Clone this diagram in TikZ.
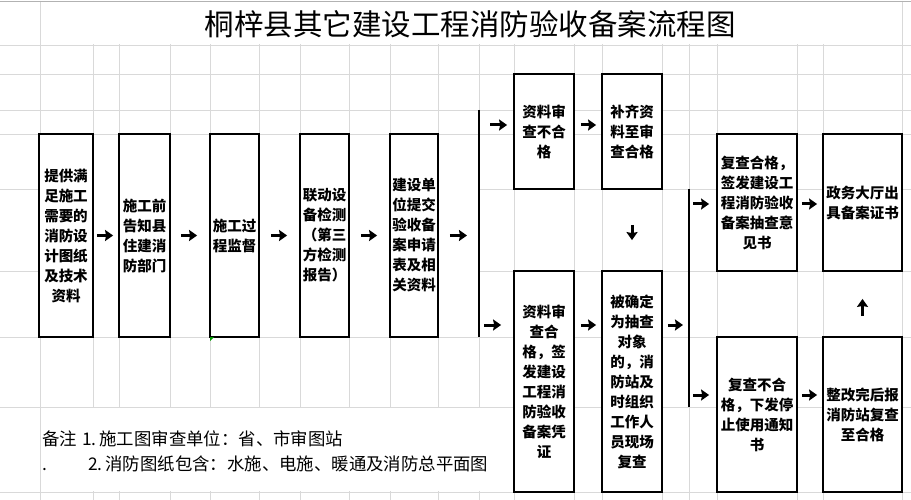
\documentclass[tikz,border=0pt]{standalone}
\usepackage{fontspec}
\newfontfamily\cjk{Noto Sans CJK SC}
\usepackage{tikz}
\usetikzlibrary{arrows.meta}
\usetikzlibrary{calc}
\newcommand{\boxfont}{\cjk\bfseries\fontsize{14.5}{20}\selectfont}
\newcommand{\notefont}{\cjk\fontsize{17.4}{20}\selectfont}
\newcommand{\titlefont}{\cjk\fontsize{29.5}{31}\selectfont}

\begin{document}
\begin{tikzpicture}[x=1pt, y=-1pt,
    grid line/.style={draw=gray!30, line width=0.8pt},
    stepbox/.style={draw, line width=1.8pt, fill=white, inner sep=0pt, align=center, font=\boxfont},
    flow/.style={line width=3pt, -{Stealth[length=8pt,width=11pt,inset=1pt]}},
    bracket line/.style={line width=1.8pt},
    ]
\useasboundingbox (0,0) rectangle (911,500);
\fill[white] (0,0) rectangle (911,500);

%% sheet grid
\foreach \gx in {40,93,119,170,210,259,300,349,390,438,479,514,574,602,662,689,717,797,823,902}
  \draw[grid line] (\gx,1) -- (\gx,500);
\foreach \gy in {45,74,110,134,189,271,337,407,492}
  \draw[grid line] (0,\gy) -- (911,\gy);
\draw[gray!60, line width=0.8pt] (0,1) -- (911,1);

%% merged cells
\fill[white] (40.6,1.6) rectangle (901.4,44.4);
\fill[white] (40.6,134.6) rectangle (478.4,336.4);
\fill[white] (40.6,407.6) rectangle (513.4,491.4);

%% title
\node[font=\titlefont] (title) at (470,24) {桐梓县其它建设工程消防验收备案流程图};

%% draw boxes
\node[stepbox, minimum width=54pt, minimum height=203pt] (design) at (66,235.5)
  {提供满\\足施工\\需要的\\消防设\\计图纸\\及技术\\资料};
\node[stepbox, minimum width=51pt, minimum height=203pt] (notify) at (144.5,235.5)
  {施工前\\告知县\\住建消\\防部门};
\node[stepbox, minimum width=49pt, minimum height=203pt] (supervise) at (234.5,235.5)
  {施工过\\程监督};
\node[stepbox, minimum width=49pt, minimum height=203pt] (detect) at (324.5,235.5)
  {联动设\\备检测\\（第三\\方检测\\报告）};
\node[stepbox, minimum width=48pt, minimum height=203pt] (apply) at (414,235.5)
  {建设单\\位提交\\验收备\\案申请\\表及相\\关资料};

\node[stepbox, minimum width=60pt, minimum height=115pt] (fail) at (544,131.5)
  {资料审\\查不合\\格};
\node[stepbox, minimum width=60pt, minimum height=115pt] (supply) at (632,131.5)
  {补齐资\\料至审\\查合格};
\node[stepbox, minimum width=60pt, minimum height=221pt] (pass) at (544,381.5)
  {资料审\\查合\\格，签\\发建设\\工程消\\防验收\\备案凭\\证};
\node[stepbox, minimum width=60pt, minimum height=221pt] (spot) at (632,381.5)
  {被确定\\为抽查\\对象\\的，消\\防站及\\时组织\\工作人\\员现场\\复查};

\node[stepbox, minimum width=80pt, minimum height=137pt] (reok) at (757,202.5)
  {复查合格，\\签发建设工\\程消防验收\\备案抽查意\\见书};
\node[stepbox, minimum width=79pt, minimum height=137pt] (cert) at (862.5,202.5)
  {政务大厅出\\具备案证书};
\node[stepbox, minimum width=80pt, minimum height=155pt] (reno) at (757,414.5)
  {复查不合\\格，下发停\\止使用通知\\书};
\node[stepbox, minimum width=79pt, minimum height=155pt] (rectify) at (862.5,414.5)
  {整改完后报\\消防站复查\\至合格};

\fill[green!60!black] (210,337) -- (214,337) -- (210,341) -- cycle;

%% brackets
\coordinate (brTop) at (479,110);   \coordinate (brBot) at (479,337);
\coordinate (brUp) at (479,125);    \coordinate (brLow) at (479,325);
\coordinate (brTop2) at (689,189);  \coordinate (brBot2) at (689,407);
\coordinate (brUp2) at (689,204);   \coordinate (brLow2) at (689,395);
\draw[bracket line] (brTop) -- (brBot);
\draw[bracket line] (brTop2) -- (brBot2);

%% draw arrows
\draw[flow, shorten <=3pt, shorten >=5pt] (design) -- (notify);
\draw[flow, shorten <=10pt, shorten >=12pt] (notify) -- (supervise);
\draw[flow, shorten <=11pt, shorten >=12pt] (supervise) -- (detect);
\draw[flow, shorten <=11pt, shorten >=12pt] (detect) -- (apply);
\draw[flow, shorten <=11pt, shorten >=12pt] (apply) -- (apply -| brTop);

\draw[flow, shorten <=11pt, shorten >=6pt] (brUp) -- (brUp -| fail.west);
\draw[flow, shorten <=5pt, shorten >=12pt] (brLow) -- (brLow -| pass.west);
\draw[flow, shorten <=6pt, shorten >=5pt] (brUp -| fail.east) -- (brUp -| supply.west);
\draw[flow, shorten <=6pt, shorten >=5pt] (brLow -| pass.east) -- (brLow -| spot.west);
\draw[flow, shorten <=35pt, shorten >=30pt] (supply) -- (spot);

\draw[flow, shorten <=5pt, shorten >=6pt] (brLow -| spot.east) -- (brLow -| brTop2);
\draw[flow, shorten <=4pt, shorten >=7pt] (brUp2) -- (brUp2 -| reok.west);
\draw[flow, shorten <=4pt, shorten >=7pt] (brLow2) -- (brLow2 -| reno.west);
\draw[flow, shorten <=4pt, shorten >=5pt] (brUp2 -| reok.east) -- (brUp2 -| cert.west);
\draw[flow, shorten <=4pt, shorten >=5pt] (brLow2 -| reno.east) -- (brLow2 -| rectify.west);
\draw[flow, shorten <=20pt, shorten >=27pt] (rectify) -- (cert);

%% notes
\node[anchor=west, inner sep=0pt, font=\notefont] (note1) at (42,439)
  {\makebox[40pt][l]{备注}1.\,施工图审查单位：省、市审图站};
\node[anchor=west, inner sep=0pt, font=\notefont] (note2) at (42,464)
  {\makebox[46pt][l]{.}2.\,消防图纸包含：水施、电施、暖通及消防总平面图};

\end{tikzpicture}
\end{document}
